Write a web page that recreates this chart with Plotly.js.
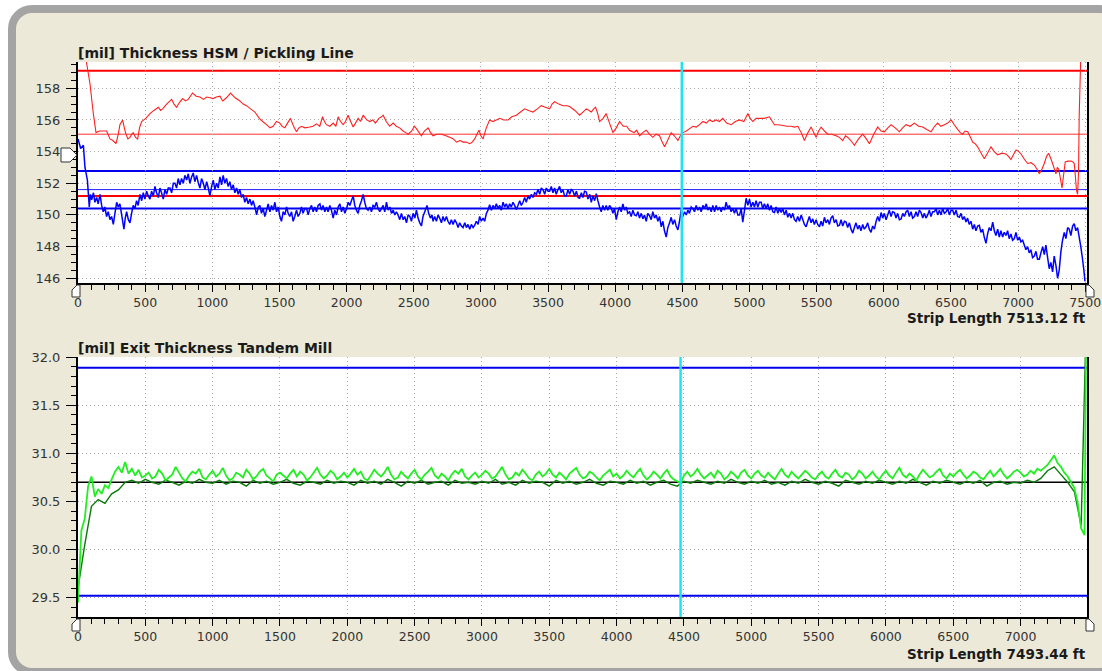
<!DOCTYPE html>
<html>
<head>
<meta charset="utf-8">
<script src="https://cdn.plot.ly/plotly-3.0.1.min.js"></script>
<style>
  html, body { margin: 0; padding: 0; background: #ffffff; }
  #frame {
    position: absolute; left: 8px; top: 5px; width: 1116px; height: 671px;
    box-sizing: border-box; border: 8px solid #a4a4a4; border-radius: 24px;
    background: #ece9d8;
  }
  #chart { position: absolute; left: 0; top: 0; width: 1102px; height: 671px; }
</style>
</head>
<body>
<div id="frame"></div>
<div id="chart"></div>
<script>
// ---------------- DATA ----------------
// HSM thickness (red), strip length ft / mil
const hsmPos = [
  0,60,89,114,134,160,188,213,238,260,
  283,300,312,332,345,357,372,387,400,411,
  428,444,458,474,505,536,565,598,615,630,
  660,697,715,734,755,779,800,821,853,880,
  908,935,958,985,1007,1030,1057,1077,1105,1136,
  1170,1205,1230,1255,1285,1317,1350,1375,1404,1430,
  1453,1478,1503,1520,1540,1560,1582,1605,1627,1645,
  1664,1690,1726,1750,1776,1800,1821,1835,1850,1875,
  1900,1920,1937,1955,1974,1992,2011,2030,2049,2066,
  2086,2104,2123,2150,2173,2195,2215,2240,2260,2272,
  2295,2321,2347,2370,2395,2420,2440,2458,2485,2505,
  2520,2540,2557,2580,2607,2625,2644,2670,2706,2740,
  2768,2795,2818,2845,2867,2890,2917,2935,2954,2970,
  2986,3000,3016,3040,3065,3090,3115,3140,3170,3202,
  3230,3264,3295,3326,3355,3388,3420,3450,3480,3512,
  3530,3549,3580,3611,3640,3661,3700,3735,3760,3785,
  3805,3822,3840,3854,3870,3884,3910,3933,3958,3983,
  4008,4033,4060,4085,4107,4140,4160,4182,4205,4231,
  4255,4281,4305,4330,4350,4368,4390,4417,4440,4467,
  4485,4504,4530,4554,4580,4603,4628,4653,4680,4702,
  4727,4752,4776,4801,4830,4864,4895,4926,4958,4988,
  5005,5025,5050,5074,5110,5149,5170,5186,5215,5248,
  5280,5310,5335,5360,5385,5409,5435,5459,5478,5496,
  5515,5533,5558,5583,5610,5645,5670,5694,5715,5732,
  5755,5781,5812,5843,5870,5893,5925,5955,5980,6004,
  6030,6054,6085,6116,6140,6166,6196,6228,6260,6290,
  6320,6352,6378,6401,6425,6451,6476,6501,6525,6550,
  6570,6587,6605,6625,6645,6662,6680,6699,6725,6749,
  6772,6798,6822,6848,6880,6910,6928,6947,6965,6985,
  7005,7022,7048,7071,7096,7121,7140,7158,7178,7195,
  7212,7227,7242,7257,7270,7282,7292,7302,7315,7327,
  7340,7351,7372,7394,7408,7418,7428,7435,7443,7450,
  7455,7462,7470
];
const hsmVal = [
  160.8,159.8,158.3,156.4,155.2,155.3,155.3,155.3,154.8,154.7,
  154.5,155.1,155.7,156.0,155.5,155.1,154.8,154.9,155.1,155.2,
  154.9,154.8,155.5,155.9,156.1,156.4,156.6,156.8,156.6,156.7,
  157.0,157.3,157.0,156.8,157.1,157.35,157.2,157.3,157.7,157.5,
  157.45,157.3,157.45,157.4,157.35,157.45,157.5,157.2,157.4,157.7,
  157.4,157.2,157.0,156.9,156.7,156.5,156.1,155.9,155.7,155.5,
  155.6,155.9,155.8,155.6,155.5,155.8,156.1,155.6,155.25,155.5,
  155.6,155.5,155.55,155.6,155.75,155.6,156.2,155.9,155.7,155.6,
  155.8,155.6,156.2,155.9,155.7,155.9,156.3,155.9,155.55,155.8,
  156.1,155.9,156.3,156.0,155.9,156.0,155.8,156.1,156.2,156.3,
  155.9,155.6,155.8,155.6,155.5,155.3,155.2,155.1,155.3,155.6,
  155.45,155.2,155.0,155.3,155.5,155.2,155.0,155.1,155.1,155.0,
  154.9,154.8,154.6,154.7,154.6,154.6,154.5,154.6,154.8,155.1,
  155.35,155.0,154.8,155.5,156.0,155.9,156.0,156.1,156.0,156.0,
  156.2,156.3,156.5,156.7,156.6,156.5,156.7,156.9,156.8,156.7,
  157.0,157.15,157.0,156.9,156.9,156.85,156.6,156.3,156.5,156.7,
  156.6,156.5,156.7,156.8,156.4,155.9,156.1,156.4,155.8,155.2,
  155.5,155.9,155.6,155.6,155.35,155.2,155.35,155.0,155.2,155.35,
  155.1,154.9,155.1,155.0,154.6,154.3,154.7,155.2,155.0,154.7,
  155.0,155.2,155.3,155.45,155.6,155.55,155.7,155.9,155.8,156.0,
  155.9,156.0,155.9,156.1,155.8,155.7,155.9,156.0,155.9,156.4,
  156.1,155.9,156.1,156.1,156.1,156.2,155.9,155.7,155.7,155.65,
  155.6,155.6,155.55,155.6,155.2,154.7,155.2,155.55,155.2,154.9,
  155.3,155.55,155.3,155.1,155.1,155.0,154.9,154.7,155.0,154.9,
  154.7,154.4,154.8,155.1,154.8,154.5,155.1,155.55,155.3,155.25,
  155.5,155.7,155.5,155.25,155.5,155.7,155.6,155.8,155.6,155.55,
  155.4,155.25,155.6,155.8,155.6,155.7,155.8,156.0,155.7,155.4,
  155.2,155.1,155.3,155.25,154.9,154.6,154.5,154.3,153.9,153.55,
  153.9,154.3,154.0,153.8,153.9,153.85,153.7,153.5,153.8,154.1,
  154.0,153.85,153.5,153.25,153.3,153.15,152.9,152.6,152.9,153.25,
  153.7,153.9,153.6,153.25,152.9,152.6,153.0,152.9,152.3,151.7,
  152.6,153.35,153.4,153.4,153.35,153.25,152.3,151.55,151.3,152.65,
  156.2,158.5,161.0
];

// Pickling line thickness (blue)
const pickPos = [
  0,20,40,52,70,84,92,102,115,126,
  139,150,164,176,188,200,213,225,238,250,
  263,275,288,300,312,325,342,352,362,375,
  387,399,411,424,436,448,461,474,486,498,
  511,523,536,548,561,573,585,598,610,622,
  635,647,660,672,685,697,710,722,734,746,
  759,771,784,796,809,821,833,846,858,870,
  883,895,908,920,933,945,958,970,982,995,
  1007,1019,1032,1044,1057,1069,1081,1093,1106,1118,
  1131,1143,1156,1168,1181,1193,1205,1218,1230,1242,
  1255,1267,1280,1292,1304,1317,1330,1342,1354,1366,
  1379,1391,1404,1416,1429,1441,1453,1466,1478,1491,
  1503,1515,1528,1540,1553,1565,1577,1590,1602,1614,
  1627,1639,1652,1664,1676,1689,1702,1714,1726,1739,
  1751,1763,1776,1788,1801,1813,1825,1838,1850,1862,
  1875,1887,1900,1912,1925,1937,1950,1962,1974,1987,
  2000,2012,2024,2036,2049,2061,2073,2086,2098,2111,
  2123,2135,2148,2160,2173,2185,2197,2210,2222,2234,
  2247,2260,2272,2284,2297,2309,2322,2334,2347,2359,
  2371,2383,2396,2408,2421,2433,2446,2458,2471,2483,
  2495,2508,2520,2532,2545,2557,2569,2582,2599,2611,
  2624,2636,2644,2656,2669,2681,2693,2706,2718,2730,
  2743,2755,2768,2780,2793,2805,2818,2830,2842,2855,
  2867,2880,2892,2904,2917,2929,2942,2954,2966,2979,
  2991,3003,3016,3028,3041,3053,3065,3078,3090,3103,
  3115,3127,3140,3152,3165,3177,3189,3202,3214,3226,
  3239,3251,3264,3276,3289,3301,3314,3326,3338,3351,
  3363,3376,3388,3400,3413,3425,3438,3450,3462,3475,
  3487,3500,3512,3524,3537,3549,3561,3574,3586,3598,
  3611,3623,3636,3648,3661,3673,3686,3698,3711,3723,
  3735,3748,3760,3772,3785,3797,3810,3822,3834,3847,
  3859,3871,3884,3896,3908,3921,3933,3945,3958,3970,
  3983,3995,4008,4020,4033,4045,4057,4070,4082,4094,
  4107,4119,4132,4144,4157,4169,4181,4194,4206,4218,
  4231,4243,4256,4268,4280,4293,4305,4318,4330,4343,
  4355,4367,4380,4392,4405,4417,4429,4442,4454,4467,
  4479,4492,4504,4516,4529,4541,4553,4566,4578,4591,
  4603,4616,4628,4640,4653,4665,4678,4690,4702,4715,
  4727,4740,4752,4764,4777,4789,4801,4814,4826,4839,
  4851,4863,4876,4888,4901,4913,4926,4938,4950,4963,
  4975,4988,5000,5012,5025,5037,5049,5062,5074,5087,
  5099,5111,5124,5136,5149,5161,5173,5186,5198,5211,
  5223,5236,5248,5260,5273,5285,5297,5310,5322,5335,
  5347,5359,5372,5385,5397,5409,5422,5434,5446,5459,
  5471,5483,5496,5508,5521,5533,5545,5558,5570,5583,
  5595,5607,5620,5632,5645,5657,5670,5682,5694,5707,
  5719,5731,5744,5756,5769,5781,5793,5806,5818,5830,
  5843,5855,5868,5880,5892,5905,5917,5930,5943,5955,
  5967,5980,5992,6004,6017,6029,6041,6054,6066,6079,
  6091,6103,6116,6129,6141,6153,6166,6178,6190,6203,
  6215,6228,6240,6252,6265,6277,6290,6302,6314,6327,
  6339,6351,6364,6377,6389,6401,6414,6426,6438,6451,
  6464,6476,6488,6501,6513,6525,6538,6550,6562,6575,
  6587,6599,6612,6624,6636,6649,6662,6674,6686,6699,
  6711,6723,6736,6748,6761,6773,6785,6798,6811,6823,
  6835,6848,6860,6872,6885,6897,6910,6922,6934,6947,
  6959,6972,6984,6997,7009,7021,7034,7046,7058,7071,
  7083,7095,7108,7121,7133,7145,7158,7170,7183,7195,
  7207,7220,7232,7244,7257,7269,7282,7294,7306,7319,
  7331,7344,7356,7369,7381,7393,7406,7418,7430,7443,
  7455,7467,7480,7490,7498
];
const pickVal = [
  154.8,154.2,154.4,153.0,152.2,150.5,151.3,150.95,151.4,150.8,
  151.1,150.7,151.3,150.6,150.2,150.5,149.9,150.2,149.7,149.9,
  149.4,150.1,150.8,150.5,150.7,150.0,149.1,149.8,150.2,149.7,
  149.5,150.1,150.6,150.4,150.9,150.6,151.3,150.9,151.4,151.0,
  151.5,151.2,151.0,151.5,151.2,151.8,151.4,151.1,151.7,151.4,
  151.0,151.6,151.3,151.7,151.7,151.4,152.0,152.0,151.7,152.3,
  151.9,152.3,152.0,152.5,152.2,152.6,152.0,152.4,152.65,152.1,
  152.5,152.05,151.7,152.3,152.0,151.6,152.1,151.7,151.2,151.8,
  152.2,151.6,152.0,151.7,152.4,151.9,152.5,152.0,152.3,151.8,
  152.1,151.6,151.9,151.4,151.7,151.3,151.6,151.1,151.3,150.8,
  151.1,150.7,151.0,150.6,150.9,150.5,150.0,150.5,150.6,150.1,
  150.4,149.9,150.3,150.7,150.2,150.6,150.3,150.8,150.2,150.5,
  149.9,149.6,150.2,150.0,150.5,150.1,149.9,150.2,149.6,149.9,
  150.3,149.9,150.1,150.5,150.1,150.4,150.4,150.0,150.4,150.6,
  150.2,150.5,150.2,150.6,150.7,150.3,150.6,150.2,150.5,150.2,
  150.6,150.3,149.8,150.3,150.0,150.5,150.7,150.2,150.5,150.1,
  150.4,150.8,150.6,150.9,151.2,150.6,150.3,150.1,150.6,150.9,
  151.3,150.8,150.4,150.3,150.5,150.2,150.6,150.5,150.8,150.4,
  150.2,150.4,150.6,150.2,150.8,150.3,150.5,150.1,150.3,150.0,
  150.2,150.0,149.7,150.1,149.7,149.9,149.5,150.0,149.9,149.6,
  150.1,149.8,150.3,149.8,149.5,149.3,149.9,150.2,150.6,150.1,
  149.8,150.0,149.6,149.9,149.6,150.0,149.8,149.5,149.9,149.6,
  149.9,149.6,149.4,149.7,149.4,149.7,149.5,149.2,149.5,149.3,
  149.2,149.5,149.2,149.4,149.1,149.4,149.2,149.35,149.6,149.4,
  149.9,149.6,149.8,149.6,150.1,150.3,150.65,150.3,150.6,150.4,
  150.7,150.4,150.6,150.3,150.8,150.5,150.7,150.4,150.7,150.5,
  150.8,150.6,150.35,150.6,150.9,150.6,150.8,151.1,150.8,151.2,
  151.0,151.3,151.1,151.4,151.3,151.6,151.3,151.7,151.6,151.3,
  151.7,151.5,151.5,151.8,151.4,151.7,151.3,151.6,151.8,151.4,
  151.6,151.2,151.2,151.6,151.3,151.6,151.5,151.2,151.5,151.1,
  151.05,151.4,151.1,151.5,151.45,151.0,151.3,150.8,151.2,150.9,
  151.35,150.9,150.5,150.2,150.6,150.3,150.6,150.3,150.6,150.45,
  150.1,150.4,149.7,150.2,150.5,150.2,150.7,150.3,150.5,150.1,
  150.2,149.9,150.3,150.0,149.95,150.2,149.8,150.1,149.75,150.0,
  149.6,150.1,149.95,149.7,150.2,149.8,150.0,149.6,149.9,149.25,
  149.6,149.0,148.6,149.2,149.5,149.85,149.4,149.7,149.3,149.05,
  149.6,150.35,149.9,150.2,150.0,150.3,150.1,150.5,150.4,150.2,
  150.6,150.3,150.5,150.2,150.6,150.4,150.7,150.3,150.5,150.2,
  150.6,150.2,150.6,150.3,150.5,150.2,150.5,150.3,150.8,150.4,
  150.6,150.2,150.4,150.1,150.4,150.0,150.0,150.4,149.55,150.3,
  151.05,150.6,151.0,150.5,150.8,150.5,150.9,150.5,150.8,150.8,
  150.4,150.7,150.4,150.7,150.3,150.6,150.2,150.15,150.5,150.1,
  150.4,150.15,150.4,150.0,150.3,149.85,150.1,149.8,150.1,149.7,
  149.6,149.9,149.6,150.0,149.7,149.4,149.25,149.6,149.9,149.5,
  149.75,149.4,149.7,149.4,149.25,149.6,149.3,149.85,149.5,149.7,
  149.4,149.8,149.95,149.5,149.7,149.3,149.35,149.7,149.3,149.6,
  149.55,149.2,149.5,149.1,148.85,149.2,149.5,149.1,149.35,149.0,
  149.4,149.1,149.25,149.5,149.1,148.9,149.3,149.1,149.6,149.9,
  149.6,150.15,149.8,150.1,149.7,150.0,150.3,149.9,150.2,150.15,
  149.8,150.1,149.7,149.75,150.1,149.9,150.2,150.3,149.9,150.2,
  149.8,149.9,150.2,149.9,150.3,150.15,149.8,150.1,149.8,150.0,
  150.3,149.9,150.2,150.2,150.4,150.0,150.3,150.0,150.4,150.1,
  150.2,150.4,150.0,150.3,150.3,150.0,150.3,149.9,149.85,150.1,
  149.7,149.9,149.55,149.8,149.4,149.6,149.1,149.4,149.0,149.3,
  149.35,148.9,149.1,148.6,148.2,148.8,149.2,149.0,149.55,149.0,
  148.7,149.1,148.6,149.0,148.6,148.9,148.7,149.0,148.5,148.8,
  148.4,148.5,148.9,148.4,148.6,148.3,148.4,148.1,147.8,148.0,
  147.6,147.8,147.3,147.4,147.7,147.2,147.2,147.6,148.0,147.5,
  148.1,147.3,146.6,147.0,146.4,147.4,146.8,146.0,146.5,147.7,
  148.4,148.9,148.5,149.2,149.1,148.7,149.3,149.45,149.0,149.2,
  148.6,148.0,147.2,146.5,145.8
];

// Tandem mill exit thickness: bright green sampled every 25 ft, dark green every 50 ft
const exitBrightStepFt = 25;
const exitBright = [
  29.45,30.20,30.32,30.66,30.76,30.55,30.63,30.58,30.67,30.64,30.73,30.81,30.86,30.80,30.91,30.79,30.84,30.77,30.83,30.75,
  30.77,30.80,30.74,30.76,30.83,30.79,30.72,30.75,30.78,30.86,30.80,30.74,30.71,30.77,30.81,30.79,30.84,30.75,30.73,30.78,
  30.82,30.76,30.79,30.85,30.77,30.72,30.74,30.80,30.78,30.75,30.83,30.79,30.73,30.76,30.81,30.84,30.77,30.74,30.71,30.78,
  30.80,30.77,30.74,30.79,30.83,30.76,30.81,30.78,30.72,30.75,30.80,30.85,30.78,30.74,30.77,30.82,30.79,30.73,30.76,30.80,
  30.75,30.79,30.84,30.78,30.81,30.74,30.72,30.77,30.83,30.79,30.76,30.80,30.86,30.78,30.73,30.75,30.81,30.77,30.74,30.79,
  30.83,30.76,30.73,30.78,30.81,30.85,30.77,30.74,30.79,30.76,30.72,30.78,30.82,30.79,30.84,30.76,30.73,30.77,30.80,30.75,
  30.78,30.82,30.79,30.74,30.76,30.81,30.86,30.78,30.73,30.75,30.80,30.77,30.83,30.79,30.74,30.72,30.78,30.81,30.76,30.79,
  30.84,30.78,30.75,30.80,30.77,30.73,30.79,30.82,30.85,30.78,30.74,30.76,30.81,30.79,30.75,30.72,30.77,30.80,30.83,30.76,
  30.79,30.74,30.77,30.82,30.78,30.75,30.80,30.84,30.77,30.73,30.76,30.81,30.78,30.74,30.79,30.83,30.76,30.73,30.71,30.69,
  30.77,30.81,30.76,30.79,30.84,30.78,30.74,30.77,30.80,30.75,30.82,30.79,30.73,30.76,30.81,30.78,30.74,30.80,30.83,30.77,
  30.74,30.79,30.82,30.77,30.75,30.80,30.76,30.73,30.79,30.84,30.78,30.75,30.81,30.77,30.74,30.78,30.82,30.79,30.75,30.73,
  30.78,30.81,30.76,30.74,30.79,30.83,30.77,30.75,30.80,30.78,30.73,30.76,30.82,30.79,30.74,30.77,30.81,30.76,30.73,30.78,
  30.82,30.77,30.74,30.80,30.85,30.78,30.75,30.79,30.76,30.72,30.78,30.83,30.79,30.75,30.77,30.81,30.84,30.77,30.74,30.79,
  30.76,30.80,30.83,30.78,30.74,30.77,30.81,30.79,30.75,30.73,30.78,30.82,30.76,30.80,30.84,30.78,30.74,30.77,30.81,30.83,
  30.80,30.76,30.78,30.82,30.79,30.84,30.82,30.85,30.88,30.93,30.98,30.90,30.86,30.80,30.76,30.70,30.64,30.48,30.22,30.15
];
const exitDarkStepFt = 50;
const exitDark = [
  29.60,30.05,30.45,30.52,30.48,30.58,30.62,30.70,30.72,30.69,30.73,30.70,30.68,30.72,30.70,30.67,30.71,30.69,30.73,30.70,
  30.69,30.72,30.68,30.71,30.70,30.66,30.72,30.69,30.71,30.68,30.70,30.73,30.69,30.67,30.71,30.70,30.68,30.72,30.69,30.71,
  30.70,30.67,30.72,30.69,30.71,30.68,30.73,30.70,30.66,30.71,30.69,30.72,30.68,30.70,30.71,30.67,30.72,30.69,30.70,30.68,
  30.71,30.69,30.73,30.68,30.70,30.67,30.72,30.69,30.71,30.70,30.66,30.72,30.69,30.71,30.68,30.70,30.73,30.69,30.67,30.71,
  30.70,30.68,30.72,30.69,30.71,30.67,30.70,30.72,30.68,30.66,30.71,30.69,30.72,30.70,30.68,30.71,30.69,30.73,30.70,30.68,
  30.71,30.69,30.72,30.68,30.70,30.67,30.71,30.69,30.73,30.70,30.68,30.71,30.69,30.66,30.72,30.70,30.68,30.71,30.69,30.72,
  30.70,30.68,30.71,30.69,30.73,30.70,30.67,30.71,30.69,30.72,30.70,30.68,30.71,30.69,30.72,30.66,30.70,30.71,30.68,30.70,
  30.69,30.72,30.70,30.74,30.82,30.86,30.78,30.70,30.60,30.25
];
// final jump at the strip tail
const exitTailPos = [7488];
const exitBrightTail = [32.4];
const exitDarkTail = [32.4];

// limit / nominal lines
const hsmLimits = [159.1, 151.2];
const hsmNominal = 155.1;
const pickLimits = [152.78, 150.4];
const pickNominal = 151.6;
const exitLimits = [31.89, 29.52];
const exitNominal = 30.70;
const cursorTop = 4496;
const cursorBottom = 4475;
const lengthTop = 7513.12;
const lengthBottom = 7493.44;

// ---------------- BUILD ----------------
const brightPos = exitBright.map((_, i) => i * exitBrightStepFt).concat(exitTailPos);
const brightVal = exitBright.concat(exitBrightTail);
const darkPos = exitDark.map((_, i) => i * exitDarkStepFt).concat(exitTailPos);
const darkVal = exitDark.concat(exitDarkTail);

const W = 1102, H = 671;
const px = v => v / W, py = v => 1 - v / H;

const traces = [
  {x: pickPos, y: pickVal, xaxis: 'x', yaxis: 'y', type: 'scatter', mode: 'lines',
   line: {color: '#0000ff', width: 1.5, simplify: false}, hoverinfo: 'skip'},
  {x: hsmPos, y: hsmVal, xaxis: 'x', yaxis: 'y', type: 'scatter', mode: 'lines',
   line: {color: '#ff2020', width: 1.1, simplify: false}, hoverinfo: 'skip'},
  {x: darkPos, y: darkVal, xaxis: 'x2', yaxis: 'y2', type: 'scatter', mode: 'lines',
   line: {color: '#0b7a0b', width: 1.4, simplify: false}, hoverinfo: 'skip'},
  {x: brightPos, y: brightVal, xaxis: 'x2', yaxis: 'y2', type: 'scatter', mode: 'lines',
   line: {color: '#22ee22', width: 1.8, simplify: false}, hoverinfo: 'skip'}
];

const tickFont = {family: 'DejaVu Sans, Verdana, sans-serif', size: 12.5, color: '#333333'};
const xBase = {
  domain: [px(78), px(1087)], dtick: 500, tick0: 0, ticks: 'outside', ticklen: 7, tickwidth: 1,
  tickcolor: '#000', showline: true, linewidth: 2, linecolor: '#000', mirror: false,
  showgrid: true, gridcolor: '#a8a8a8', griddash: '1px,3px', gridwidth: 1, zeroline: false,
  minor: {dtick: 100, ticks: 'outside', ticklen: 5, tickcolor: '#000', showgrid: false},
  tickfont: tickFont, fixedrange: true
};
const yBase = {
  ticks: 'outside', ticklen: 10, tickwidth: 1, tickcolor: '#000',
  showline: true, linewidth: 2, linecolor: '#000', mirror: true,
  showgrid: true, gridcolor: '#a8a8a8', griddash: '1px,3px', gridwidth: 1, zeroline: false,
  tickfont: Object.assign({}, tickFont, {size: 13}), fixedrange: true, ticklabelstandoff: 3
};

const shapes = [];
function hline(xref, yref, v, color, width) {
  shapes.push({type: 'line', xref: xref + ' domain', x0: 0, x1: 1, yref: yref, y0: v, y1: v,
               line: {color: color, width: width}, layer: 'below'});
}
hline('x', 'y', hsmLimits[0], '#ff0000', 2);
hline('x', 'y', hsmNominal, '#ff3030', 1);
hline('x', 'y', pickLimits[0], '#0000ee', 2);
hline('x', 'y', pickNominal, '#2020ff', 1);
hline('x', 'y', hsmLimits[1], '#ff0000', 2);
hline('x', 'y', pickLimits[1], '#0000ee', 2);
hline('x2', 'y2', exitLimits[0], '#0000ee', 2);
hline('x2', 'y2', exitLimits[1], '#0000ee', 2);
hline('x2', 'y2', exitNominal, '#000000', 1.5);

shapes.push({type: 'line', xref: 'x', x0: cursorTop, x1: cursorTop, yref: 'y domain', y0: 0, y1: 1,
             line: {color: '#1ee4f2', width: 2.5}, layer: 'above'});
shapes.push({type: 'line', xref: 'x2', x0: cursorBottom, x1: cursorBottom, yref: 'y2 domain', y0: 0, y1: 1,
             line: {color: '#1ee4f2', width: 2.5}, layer: 'above'});

// small cursor pointer glyphs of the viewer (decoration)
function glyph(pts) {
  const d = pts.map((p, i) => (i ? 'L' : 'M') + px(p[0]).toFixed(5) + ',' + py(p[1]).toFixed(5)).join(' ') + ' Z';
  shapes.push({type: 'path', xref: 'paper', yref: 'paper', path: d,
               fillcolor: '#ffffff', line: {color: '#333333', width: 1}, layer: 'above'});
}
glyph([[61, 148], [70, 148], [77, 155], [70, 162], [61, 162]]);
glyph([[72, 297], [80, 297], [80, 285], [77, 285], [72, 290]]);
glyph([[1086, 285], [1089, 285], [1094, 290], [1094, 297], [1086, 297]]);
glyph([[72, 631], [80, 631], [80, 619], [77, 619], [72, 624]]);
glyph([[1086, 619], [1089, 619], [1094, 624], [1094, 631], [1086, 631]]);

const titleFont = {family: 'DejaVu Sans, Verdana, sans-serif', size: 14, color: '#1a1a1a'};
const lenFont = {family: 'DejaVu Sans, Verdana, sans-serif', size: 13.5, color: '#1a1a1a'};
const annotations = [
  {text: '<b>[mil] Thickness HSM / Pickling Line</b>', xref: 'paper', yref: 'paper',
   x: px(76), y: py(53), xanchor: 'left', yanchor: 'middle', showarrow: false, font: titleFont},
  {text: '<b>Strip Length ' + lengthTop.toFixed(2) + ' ft</b>', xref: 'paper', yref: 'paper',
   x: px(1088), y: py(318), xanchor: 'right', yanchor: 'middle', showarrow: false, font: lenFont},
  {text: '<b>[mil] Exit Thickness Tandem Mill</b>', xref: 'paper', yref: 'paper',
   x: px(76), y: py(348), xanchor: 'left', yanchor: 'middle', showarrow: false, font: titleFont},
  {text: '<b>Strip Length ' + lengthBottom.toFixed(2) + ' ft</b>', xref: 'paper', yref: 'paper',
   x: px(1088), y: py(654), xanchor: 'right', yanchor: 'middle', showarrow: false, font: lenFont}
];

const layout = {
  width: W, height: H, margin: {l: 0, r: 0, t: 0, b: 0, pad: 0},
  paper_bgcolor: 'rgba(0,0,0,0)', plot_bgcolor: '#ffffff', showlegend: false,
  xaxis: Object.assign({}, xBase, {anchor: 'y', range: [0, lengthTop]}),
  yaxis: Object.assign({}, yBase, {anchor: 'x', domain: [py(283), py(62)], range: [145.70, 159.66],
                                   dtick: 2, tick0: 0,
                                   minor: {dtick: 0.5, ticks: 'outside', ticklen: 5, tickcolor: '#000', showgrid: false}}),
  xaxis2: Object.assign({}, xBase, {anchor: 'y2', range: [0, lengthBottom]}),
  yaxis2: Object.assign({}, yBase, {anchor: 'x2', domain: [py(617), py(357)], range: [29.30, 32.002],
                                    dtick: 0.5, tick0: 0, tickformat: '.1f',
                                    minor: {dtick: 0.1, ticks: 'outside', ticklen: 5, tickcolor: '#000', showgrid: false}}),
  shapes: shapes,
  annotations: annotations
};

Plotly.newPlot('chart', traces, layout, {displayModeBar: false, staticPlot: true});
</script>
</body>
</html>
